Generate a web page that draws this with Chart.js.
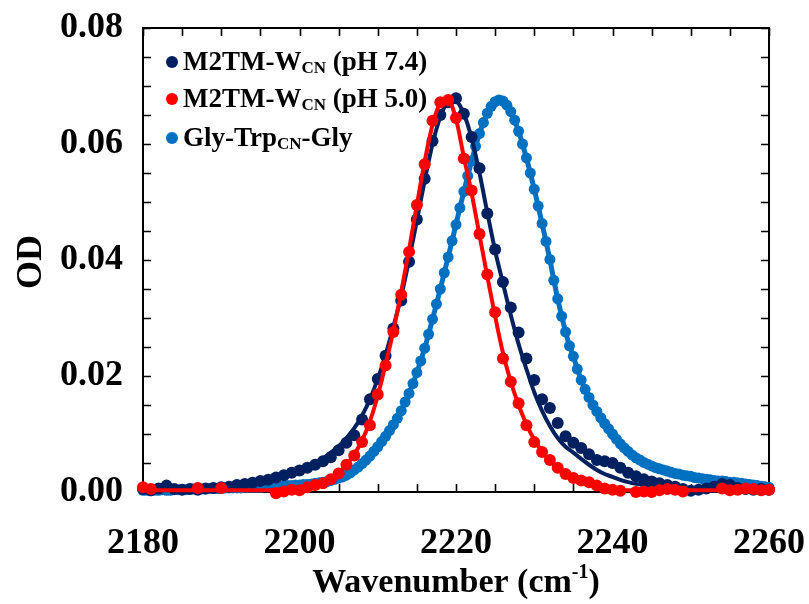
<!DOCTYPE html>
<html>
<head>
<meta charset="utf-8">
<title>OD vs Wavenumber</title>
<script src="https://cdn.jsdelivr.net/npm/chart.js@4.4.0/dist/chart.umd.min.js"></script>
<style>
    html, body { margin: 0; padding: 0; background: #fff; }
    #wrap { width: 809px; height: 604px; }
</style>
</head>
<body>
<div id="wrap"><canvas id="odChart" width="809" height="604"></canvas></div>
<script>
// Spectra (OD per wavenumber, cm-1)
const waveStart = 2180;
const waveEnd = 2260;

// M2TM-W_CN (pH 7.4), measured points, 1 cm-1 spacing
const odPh74 = [
    0.0005, 0.0003, 0.0006, 0.0011, 0.0005, 0.0004, 0.0005, 0.0004, 0.0006, 0.0007,
    0.0008, 0.0009, 0.0012, 0.0014, 0.0016, 0.0019, 0.0021, 0.0025, 0.0029, 0.0033,
    0.0037, 0.0042, 0.0047, 0.0053, 0.0060, 0.0072, 0.0085, 0.0098, 0.0125, 0.0160,
    0.0195, 0.0235, 0.0282, 0.0330, 0.0397, 0.0470, 0.0540, 0.0605, 0.0650, 0.0672,
    0.0679, 0.0652, 0.0612, 0.0558, 0.0480, 0.0418, 0.0362, 0.0318, 0.0275, 0.0230,
    0.0193, 0.0160, 0.0145, 0.0119, 0.0096, 0.0085, 0.0076, 0.0065, 0.0055, 0.0053,
    0.0050, 0.0042, 0.0033, 0.0027, 0.0022, 0.0018, 0.0015, 0.0012, 0.0009, 0.0005,
    0.0002, 0.0004, 0.0006, 0.0009, 0.0014, 0.0012, 0.0007, 0.0005, 0.0004, 0.0005,
    0.0004
];
// fitted curve
const fitPh74 = [
    0.0004, 0.0004, 0.0005, 0.0005, 0.0005, 0.0006, 0.0006, 0.0007, 0.0008, 0.0009,
    0.0010, 0.0011, 0.0013, 0.0015, 0.0017, 0.0019, 0.0022, 0.0025, 0.0029, 0.0033,
    0.0038, 0.0043, 0.0050, 0.0058, 0.0068, 0.0079, 0.0093, 0.0110, 0.0132, 0.0160,
    0.0195, 0.0237, 0.0285, 0.0338, 0.0400, 0.0468, 0.0537, 0.0600, 0.0647, 0.0672,
    0.0673, 0.0652, 0.0610, 0.0550, 0.0482, 0.0416, 0.0360, 0.0305, 0.0255, 0.0212,
    0.0172, 0.0140, 0.0114, 0.0093, 0.0078, 0.0068, 0.0057, 0.0047, 0.0038, 0.0031,
    0.0026, 0.0021, 0.0017, 0.0014, 0.0012, 0.0010, 0.0008, 0.0006, 0.0005, 0.0004,
    0.0003, 0.0003, 0.0003, 0.0003, 0.0003, 0.0003, 0.0003, 0.0003, 0.0003, 0.0003,
    0.0003
];

// M2TM-W_CN (pH 5.0), null where no marker is visible
const odPh50 = [
    0.0008, 0.0005, null, null, null, null, null, 0.0007, null, null,
    0.0007, null, null, null, null, null, null, -0.0002, 0.0001, 0.0004,
    0.0003, 0.0008, 0.0012, 0.0015, 0.0022, 0.0032, 0.0047, 0.0063, 0.0086, 0.0115,
    0.0168, 0.0218, 0.0276, 0.0340, 0.0414, 0.0495, 0.0565, 0.0640, 0.0672, 0.0676,
    0.0645, 0.0575, 0.0520, 0.0445, 0.0375, 0.0310, 0.0230, 0.0190, 0.0153, 0.0115,
    0.0086, 0.0069, 0.0055, 0.0042, 0.0031, 0.0024, 0.0020, 0.0017, 0.0011, 0.0006,
    0.0004, 0.0002, null, 0.0000, 0.0001, 0.0000, 0.0003, 0.0005, 0.0004, 0.0001,
    null, null, null, null, 0.0006, 0.0003, 0.0004, 0.0006, 0.0005, 0.0003,
    0.0004
];
const fitPh50 = [
    0.0003, 0.0003, 0.0003, 0.0003, 0.0003, 0.0003, 0.0003, 0.0003, 0.0003, 0.0003,
    0.0003, 0.0003, 0.0003, 0.0003, 0.0003, 0.0003, 0.0003, 0.0004, 0.0004, 0.0005,
    0.0006, 0.0008, 0.0011, 0.0016, 0.0023, 0.0033, 0.0047, 0.0065, 0.0089, 0.0122,
    0.0166, 0.0220, 0.0278, 0.0345, 0.0418, 0.0495, 0.0570, 0.0633, 0.0670, 0.0675,
    0.0643, 0.0578, 0.0515, 0.0443, 0.0372, 0.0303, 0.0240, 0.0190, 0.0150, 0.0117,
    0.0090, 0.0070, 0.0054, 0.0041, 0.0031, 0.0023, 0.0017, 0.0012, 0.0009, 0.0006,
    0.0004, 0.0003, 0.0003, 0.0003, 0.0003, 0.0003, 0.0003, 0.0003, 0.0003, 0.0003,
    0.0003, 0.0003, 0.0003, 0.0003, 0.0003, 0.0003, 0.0003, 0.0003, 0.0003, 0.0003,
    0.0003
];

// Gly-Trp_CN-Gly, 0.5 cm-1 spacing
const odGlyTrp = [
    0.0003, 0.0003, 0.0002, 0.0003, 0.0003, 0.0004, 0.0003, 0.0003, 0.0004, 0.0004,
    0.0004, 0.0004, 0.0005, 0.0005, 0.0005, 0.0005, 0.0005, 0.0006, 0.0006, 0.0006,
    0.0006, 0.0007, 0.0007, 0.0007, 0.0007, 0.0007, 0.0008, 0.0008, 0.0008, 0.0008,
    0.0008, 0.0009, 0.0009, 0.0009, 0.0010, 0.0010, 0.0010, 0.0011, 0.0011, 0.0012,
    0.0012, 0.0013, 0.0013, 0.0014, 0.0015, 0.0016, 0.0017, 0.0018, 0.0020, 0.0022,
    0.0024, 0.0026, 0.0029, 0.0033, 0.0038, 0.0043, 0.0049, 0.0055, 0.0062, 0.0070,
    0.0078, 0.0087, 0.0096, 0.0106, 0.0116, 0.0127, 0.0140, 0.0155, 0.0170, 0.0187,
    0.0206, 0.0226, 0.0248, 0.0272, 0.0298, 0.0324, 0.0350, 0.0378, 0.0405, 0.0433,
    0.0461, 0.0490, 0.0518, 0.0545, 0.0571, 0.0596, 0.0618, 0.0637, 0.0653, 0.0665,
    0.0673, 0.0676, 0.0674, 0.0667, 0.0656, 0.0641, 0.0622, 0.0600, 0.0576, 0.0550,
    0.0522, 0.0493, 0.0463, 0.0432, 0.0401, 0.0365, 0.0333, 0.0303, 0.0276, 0.0252,
    0.0234, 0.0212, 0.0193, 0.0177, 0.0163, 0.0150, 0.0139, 0.0128, 0.0118, 0.0109,
    0.0100, 0.0091, 0.0083, 0.0076, 0.0070, 0.0064, 0.0059, 0.0055, 0.0051, 0.0048,
    0.0045, 0.0042, 0.0040, 0.0038, 0.0036, 0.0034, 0.0032, 0.0031, 0.0029, 0.0028,
    0.0027, 0.0025, 0.0024, 0.0023, 0.0022, 0.0021, 0.0020, 0.0019, 0.0019, 0.0018,
    0.0017, 0.0017, 0.0016, 0.0015, 0.0014, 0.0013, 0.0012, 0.0011, 0.0010, 0.0009,
    0.0008
];

// Axis ticks
const xTickLabels = [2180, 2200, 2220, 2240, 2260];
const yTickLabels = [0, 0.02, 0.04, 0.06, 0.08];

// Legend entries: [main, subscript, tail]
const legendLabels = [
    ["M2TM-W", "CN", " (pH 7.4)"],
    ["M2TM-W", "CN", " (pH 5.0)"],
    ["Gly-Trp", "CN", "-Gly"]
];

const colors = {
    ph74: "#002060",
    ph50: "#ff0000",
    glyTrp: "#0070c0"
};

const serif = "'Liberation Serif', 'Times New Roman', serif";

// Pair a value list with its wavenumber grid
function toPoints(values, step) {
    const pts = [];
    values.forEach((v, i) => {
        if (v === null) return;
        pts.push({ x: waveStart + i * step, y: v });
    });
    return pts;
}

// Frame box with inward ticks on all four sides
const frameTicks = {
    id: "frameTicks",
    beforeDatasetsDraw(chart) {
        const { ctx, chartArea: a, scales } = chart;
        const x = scales.x, y = scales.y;
        ctx.save();
        ctx.strokeStyle = "#000";
        ctx.lineWidth = 2;
        ctx.strokeRect(a.left, a.top, a.right - a.left, a.bottom - a.top);
        ctx.lineWidth = 1.6;
        ctx.beginPath();
        for (let v = waveStart; v <= waveEnd; v += 5) {
            const px = Math.round(x.getPixelForValue(v)) + 0.5;
            ctx.moveTo(px, a.bottom); ctx.lineTo(px, a.bottom - 8);
            ctx.moveTo(px, a.top); ctx.lineTo(px, a.top + 8);
        }
        for (let k = 0; k <= 16; k++) {
            const py = Math.round(y.getPixelForValue(k * 0.005)) + 0.5;
            ctx.moveTo(a.left, py); ctx.lineTo(a.left + 8, py);
            ctx.moveTo(a.right, py); ctx.lineTo(a.right - 8, py);
        }
        ctx.stroke();
        ctx.restore();
    }
};

// Legend with subscripts, and axis titles
const labelsPlugin = {
    id: "labelsPlugin",
    afterDraw(chart) {
        const { ctx, chartArea: a } = chart;
        const dotColors = [colors.ph74, colors.ph50, colors.glyTrp];
        const rowOffsets = [34, 71, 110];
        ctx.save();
        ctx.fillStyle = "#000";
        ctx.textBaseline = "alphabetic";
        legendLabels.forEach((parts, i) => {
            const cy = a.top + rowOffsets[i];
            ctx.fillStyle = dotColors[i];
            ctx.beginPath();
            ctx.arc(a.left + 29, cy, 6, 0, Math.PI * 2);
            ctx.fill();
            ctx.fillStyle = "#000";
            let tx = a.left + 40;
            ctx.font = "bold 27px " + serif;
            ctx.fillText(parts[0], tx, cy + 8);
            tx += ctx.measureText(parts[0]).width;
            ctx.font = "bold 17px " + serif;
            ctx.fillText(parts[1], tx, cy + 11);
            tx += ctx.measureText(parts[1]).width;
            ctx.font = "bold 27px " + serif;
            ctx.fillText(parts[2], tx, cy + 8);
        });

        // y title
        ctx.save();
        ctx.translate(32, (a.top + a.bottom) / 2 + 2);
        ctx.rotate(-Math.PI / 2);
        ctx.textAlign = "center";
        ctx.textBaseline = "middle";
        ctx.font = "bold 36px " + serif;
        ctx.fillText("OD", 0, 0);
        ctx.restore();

        // x title with superscript
        const main = "Wavenumber (cm";
        const sup = "-1";
        const close = ")";
        ctx.font = "bold 34px " + serif;
        const wMain = ctx.measureText(main).width;
        const wClose = ctx.measureText(close).width;
        ctx.font = "bold 20px " + serif;
        const wSup = ctx.measureText(sup).width;
        let sx = (a.left + a.right) / 2 - (wMain + wSup + wClose) / 2;
        const base = 592;
        ctx.font = "bold 34px " + serif;
        ctx.fillText(main, sx, base);
        sx += wMain;
        ctx.font = "bold 20px " + serif;
        ctx.fillText(sup, sx, base - 14);
        sx += wSup;
        ctx.font = "bold 34px " + serif;
        ctx.fillText(close, sx, base);
        ctx.restore();
    }
};

function initOdChart() {
    const ctx = document.getElementById("odChart");
    if (!ctx) return;

    Chart.defaults.font.family = serif;
    Chart.defaults.color = "#000";

    const chart = new Chart(ctx, {
        type: "scatter",
        data: {
            datasets: [
                {
                    label: "pH 5.0 fit",
                    data: toPoints(fitPh50, 1),
                    showLine: true,
                    borderColor: colors.ph50,
                    borderWidth: 4,
                    pointRadius: 0,
                    cubicInterpolationMode: "monotone",
                    clip: false,
                    order: 0
                },
                {
                    label: "M2TM-W CN (pH 5.0)",
                    data: toPoints(odPh50, 1),
                    showLine: false,
                    backgroundColor: colors.ph50,
                    pointRadius: 6,
                    pointBorderWidth: 0,
                    clip: false,
                    order: 1
                },
                {
                    label: "pH 7.4 fit",
                    data: toPoints(fitPh74, 1),
                    showLine: true,
                    borderColor: colors.ph74,
                    borderWidth: 4,
                    pointRadius: 0,
                    cubicInterpolationMode: "monotone",
                    clip: false,
                    order: 2
                },
                {
                    label: "M2TM-W CN (pH 7.4)",
                    data: toPoints(odPh74, 1),
                    showLine: false,
                    backgroundColor: colors.ph74,
                    pointRadius: 6,
                    pointBorderWidth: 0,
                    clip: false,
                    order: 3
                },
                {
                    label: "Gly-Trp CN-Gly",
                    data: toPoints(odGlyTrp, 0.5),
                    showLine: true,
                    borderColor: colors.glyTrp,
                    borderWidth: 5,
                    backgroundColor: colors.glyTrp,
                    pointRadius: 5.5,
                    pointBorderWidth: 0,
                    clip: false,
                    order: 4
                }
            ]
        },
        options: {
            responsive: false,
            animation: false,
            devicePixelRatio: 1,
            layout: {
                padding: { top: 28, right: 40, left: 0, bottom: 0 }
            },
            scales: {
                x: {
                    type: "linear",
                    min: waveStart,
                    max: waveEnd,
                    grid: { display: false, drawTicks: false },
                    border: { display: false },
                    ticks: {
                        autoSkip: false,
                        maxRotation: 0,
                        padding: 30,
                        color: "#000",
                        font: { size: 36, weight: "bold" },
                        callback: function (value) {
                            return String(value);
                        }
                    },
                    afterBuildTicks: (s) => {
                        s.ticks = xTickLabels.map((v) => ({ value: v }));
                    },
                    afterFit: (s) => {
                        s.height = 112;
                        s.paddingLeft = 0;
                        s.paddingRight = 0;
                    }
                },
                y: {
                    min: 0,
                    max: 0.08,
                    grid: { display: false, drawTicks: false },
                    border: { display: false },
                    ticks: {
                        padding: 20,
                        color: "#000",
                        font: { size: 36, weight: "bold" },
                        callback: function (value) {
                            return value.toFixed(2);
                        }
                    },
                    afterBuildTicks: (s) => {
                        s.ticks = yTickLabels.map((v) => ({ value: v }));
                    },
                    afterFit: (s) => {
                        s.width = 143;
                        s.paddingTop = 0;
                        s.paddingBottom = 0;
                    }
                }
            },
            plugins: {
                legend: { display: false },
                tooltip: { enabled: false }
            }
        },
        plugins: [frameTicks, labelsPlugin]
    });

    window.odChartInstance = chart;
}

document.addEventListener("DOMContentLoaded", initOdChart);
</script>
</body>
</html>
